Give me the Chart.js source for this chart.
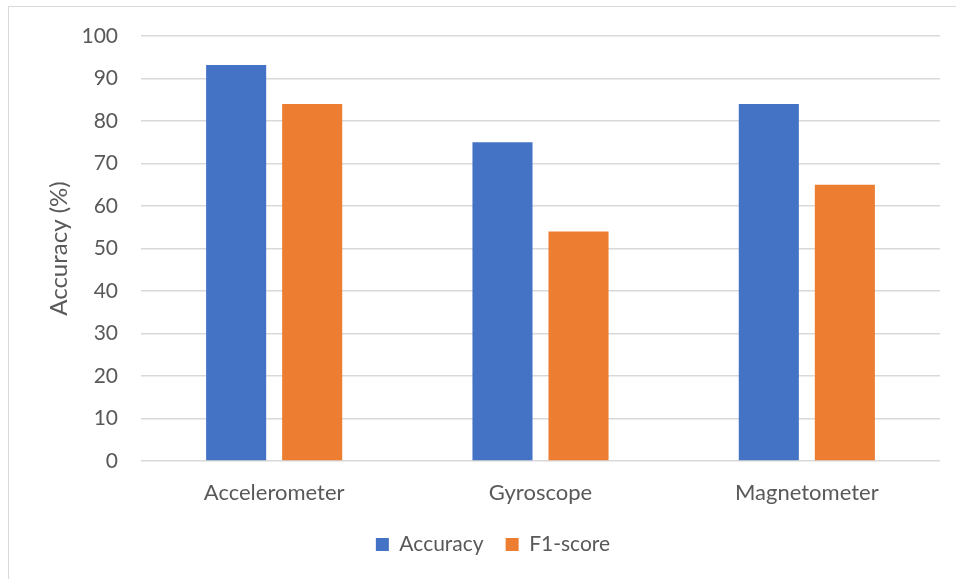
<!DOCTYPE html>
<html><head><meta charset="utf-8">
<script src="https://cdn.jsdelivr.net/npm/chart.js@4.4.1/dist/chart.umd.min.js"></script>
<style>
html,body{margin:0;padding:0;background:#fff;overflow:hidden}
#wrap{position:absolute;left:0;top:0;width:956px;height:579px}
#frame{position:absolute;left:8px;top:6px;width:980px;height:600px;border:1.5px solid #d9d9d9;pointer-events:none}
</style></head>
<body>
<div id="frame"></div>
<div id="wrap"><canvas id="c" width="956" height="579"></canvas></div>
<script>
const categories = ["Accelerometer", "Gyroscope", "Magnetometer"];
const accuracy = [93.2, 75, 84];
const f1score = [84, 54, 65];
const yTicks = [0, 10, 20, 30, 40, 50, 60, 70, 80, 90, 100];

const FONT = "Lato, 'Open Sans', sans-serif";
const TXT = "#595959";

const shiftLegend = {
  id: 'shiftLegend',
  afterLayout(chart) {
    const lg = chart.legend;
    if (lg) { lg.left += 23; lg.right += 23; }
  }
};

new Chart(document.getElementById('c'), {
  type: 'bar',
  data: {
    labels: categories,
    datasets: [
      {label: 'Accuracy', data: accuracy, backgroundColor: '#4472C4', borderWidth: 0,
       categoryPercentage: 0.571, barPercentage: 0.79},
      {label: 'F1-score', data: f1score, backgroundColor: '#ED7D31', borderWidth: 0,
       categoryPercentage: 0.571, barPercentage: 0.79}
    ]
  },
  plugins: [shiftLegend],
  options: {
    responsive: false,
    animation: false,
    devicePixelRatio: 1,
    layout: {padding: {top: 36, right: 16, bottom: 14, left: 0}},
    plugins: {
      legend: {
        position: 'bottom',
        labels: {boxWidth: 13, boxHeight: 13, padding: 22, color: TXT,
                 font: {family: FONT, size: 21}}
      },
      tooltip: {enabled: false}
    },
    scales: {
      x: {
        grid: {display: false, drawTicks: false},
        border: {display: false},
        ticks: {color: TXT, padding: 19, font: {family: FONT, size: 22}},
        afterFit: s => { s.height = 51; }
      },
      y: {
        min: 0, max: 100,
        afterBuildTicks: s => { s.ticks = yTicks.map(v => ({value: v})); },
        grid: {color: '#d9d9d9', lineWidth: 1.5, drawTicks: false},
        border: {display: false},
        ticks: {color: TXT, padding: 23, font: {family: FONT, size: 21}},
        title: {display: true, text: 'Accuracy (%)', color: TXT,
                font: {family: FONT, size: 24}, padding: {top: 45, bottom: 0}},
        afterFit: s => { s.width = 141; }
      }
    }
  }
});
</script>
</body></html>
